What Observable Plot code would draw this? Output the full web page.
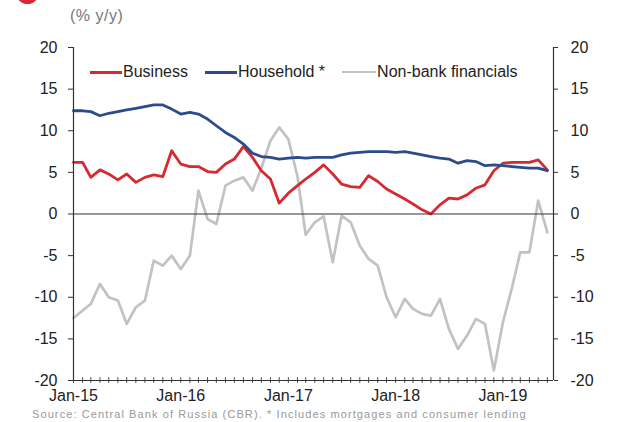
<!DOCTYPE html>
<html>
<head>
<meta charset="utf-8">
<script src="https://cdn.jsdelivr.net/npm/d3@7"></script>
<script src="https://cdn.jsdelivr.net/npm/@observablehq/plot@0.6"></script>
<style>
  html, body { margin: 0; padding: 0; background: #fff; }
  #wrap { position: relative; width: 623px; height: 422px; overflow: hidden; background: #fff; font-family: "Liberation Sans", Arial, sans-serif; }
  #unit { position: absolute; left: 70px; top: 7px; font-size: 16px; color: #777; letter-spacing: 0.5px; }
  #chart { position: absolute; left: 0; top: 0; }
  #legend { position: absolute; top: 63px; left: 90px; display: flex; align-items: center; gap: 17px; font-size: 16px; color: #222; }
  #legend .item { display: flex; align-items: center; }
  #legend .sw { display: inline-block; width: 32px; height: 3px; margin-right: 1px; }
  #caption { position: absolute; top: 408px; left: 32px; font-size: 11px; line-height: 13px; color: #999; white-space: nowrap; letter-spacing: 1.1px; }
  #logo { position: absolute; left: 16px; top: -19px; width: 23px; height: 23px; border-radius: 50%; background: #d8283a; }
</style>
</head>
<body>
<div id="wrap">
  <div id="logo"></div>
  <div id="chart"></div>
  <div id="unit">(% y/y)</div>
  <div id="legend"></div>
  <div id="caption">Source: Central Bank of Russia (CBR).  * Includes mortgages and consumer lending</div>
</div>
<script>
// ---- data (monthly, Jan-2015 .. Jun-2019) ----
const startMonth = new Date(Date.UTC(2015, 0, 1));
const endMonthExclusive = new Date(Date.UTC(2019, 6, 1));
const months = d3.utcMonth.range(startMonth, endMonthExclusive);

const business = [6.2,6.2,4.4,5.3,4.8,4.1,4.8,3.8,4.4,4.7,
                  4.5,7.6,6.0,5.7,5.7,5.1,5.0,6.0,6.6,8.1,
                  6.8,5.2,4.2,1.3,2.5,3.4,4.2,5.0,5.9,4.8,
                  3.6,3.3,3.2,4.6,3.9,3.0,2.4,1.8,1.2,0.5,
                  0.0,1.1,1.9,1.8,2.3,3.1,3.5,5.2,6.1,6.2,
                  6.2,6.2,6.5,5.3];
const household = [12.4,12.4,12.3,11.8,12.1,12.3,12.5,12.7,12.9,13.1,
                   13.1,12.6,12.0,12.2,12.0,11.4,10.6,9.8,9.2,8.4,
                   7.3,6.9,6.8,6.6,6.7,6.8,6.7,6.8,6.8,6.8,
                   7.1,7.3,7.4,7.5,7.5,7.5,7.4,7.5,7.3,7.1,
                   6.9,6.7,6.6,6.1,6.4,6.3,5.8,5.9,5.8,5.7,
                   5.6,5.5,5.5,5.2];
const nonbank = [-12.5,-11.6,-10.8,-8.4,-10.0,-10.4,-13.2,-11.2,-10.4,-5.6,
                 -6.2,-5.0,-6.6,-5.0,2.8,-0.6,-1.2,3.4,4.0,4.4,
                 2.8,5.5,8.8,10.4,9.0,4.5,-2.5,-1.0,-0.3,-5.8,
                 -0.2,-1.0,-3.8,-5.4,-6.2,-10.0,-12.4,-10.2,-11.4,-12.0,
                 -12.2,-10.2,-13.8,-16.2,-14.6,-12.6,-13.2,-18.8,-13.0,-8.8,
                 -4.6,-4.6,1.6,-2.2];

const seriesNames = ["Business", "Household *", "Non-bank financials"];
const seriesColors = ["#d62a33", "#2c4b8c", "#c2c2c2"];
const yTicks = [-20, -15, -10, -5, 0, 5, 10, 15, 20];
const xTickLabels = ["Jan-15", "Jan-16", "Jan-17", "Jan-18", "Jan-19"];
const xTickDates = [0, 1, 2, 3, 4].map(k => new Date(Date.UTC(2015 + k, 0, 1)));
const xDomain = [startMonth, new Date(Date.UTC(2019, 5, 22))];

const rows = [];
[business, household, nonbank].forEach((arr, s) => {
  arr.forEach((v, i) => rows.push({date: months[i], value: v, series: seriesNames[s]}));
});

const lineFor = (name, color, w) =>
  Plot.line(rows.filter(d => d.series === name), {x: "date", y: "value", stroke: color, strokeWidth: w, curve: "linear"});

const chart = Plot.plot({
  width: 623,
  height: 404,
  marginTop: 47,
  marginBottom: 24,
  marginLeft: 73,
  marginRight: 70,
  style: {fontFamily: "'Liberation Sans', Arial, sans-serif", fontSize: "16px", color: "#222", background: "transparent", overflow: "visible"},
  x: {type: "utc", domain: xDomain},
  y: {domain: [-20, 20]},
  marks: [
    Plot.axisY({anchor: "left", ticks: yTicks, tickSize: 5, tickPadding: 11, label: null, tickFormat: d => String(d), stroke: "#333"}),
    Plot.axisY({anchor: "right", ticks: yTicks, tickSize: 4, tickPadding: 13, label: null, tickFormat: d => String(d), stroke: "#333"}),
    Plot.axisX({ticks: xTickDates, tickFormat: (d, i) => xTickLabels[i], tickSize: 0, tickPadding: 9, label: null}),
    Plot.ruleX(months, {x: d => d, insetTop: 330, insetBottom: -3, stroke: "#555", strokeWidth: 1}),
    lineFor("Non-bank financials", seriesColors[2], 2.7),
    lineFor("Business", seriesColors[0], 2.8),
    lineFor("Household *", seriesColors[1], 2.8),
    Plot.ruleY([0], {stroke: "#333", strokeWidth: 1.2}),
    Plot.ruleY([-20], {stroke: "#333", strokeWidth: 1.2}),
    Plot.ruleX([xDomain[0]], {stroke: "#333", strokeWidth: 1.2}),
    Plot.ruleX([xDomain[1]], {stroke: "#333", strokeWidth: 1.2})
  ]
});
document.getElementById("chart").appendChild(chart);

const legend = document.getElementById("legend");
seriesNames.forEach((name, i) => {
  const item = document.createElement("div");
  item.className = "item";
  const sw = document.createElement("span");
  sw.className = "sw";
  sw.style.background = seriesColors[i];
  if (i === 2) { sw.style.height = "2px"; sw.style.width = "34px"; }
  const t = document.createElement("span");
  t.textContent = name;
  item.appendChild(sw);
  item.appendChild(t);
  legend.appendChild(item);
});
</script>
</body>
</html>
